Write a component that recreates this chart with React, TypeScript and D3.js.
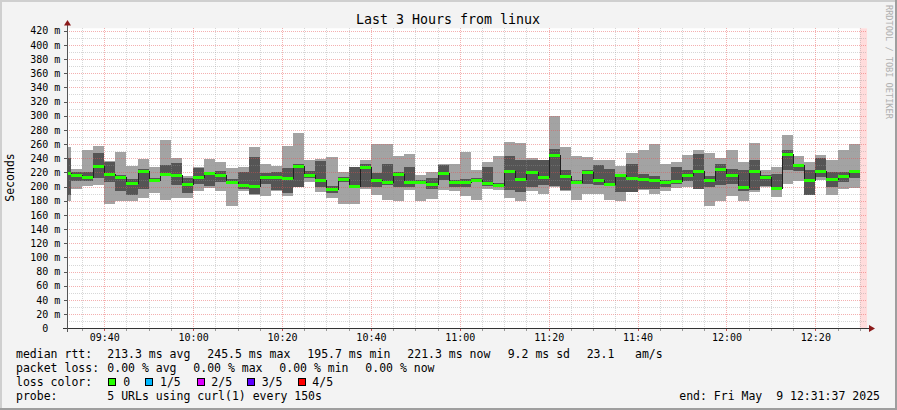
import React from 'react';
import * as d3 from 'd3';

// ---------- data ----------
const START = 9 * 3600 + 31 * 60 + 37; // 09:31:37
const END = START + 3 * 3600; // 12:31:37
const STEP = 150; // seconds per sample
const FIRST_BIN = 9 * 3600 + 30 * 60; // first sample bin starts 09:30:00

// smoke (5 pings sorted): outer max, inner high, median, inner low, outer min (ms)
const pingMax = [256, 225, 252, 257, 236, 249, 229, 239, 228, 266, 241, 215, 227, 239, 235, 226, 228, 256, 232, 229, 257, 276, 237, 239, 242, 220, 227, 237, 260, 260, 243, 246, 216, 220, 232, 232, 249, 223, 235, 243, 263, 262, 241, 238, 299, 256, 243, 242, 238, 238, 229, 248, 251, 260, 232, 234, 245, 252, 248, 240, 252, 235, 262, 223, 228, 273, 243, 234, 245, 237, 252, 260];
const pingHigh = [240, 221, 221, 248, 235, 217, 211, 225, 212, 230, 233, 212, 226, 221, 222, 211, 220, 242, 219, 220, 226, 232, 222, 236, 201, 214, 227, 232, 219, 232, 221, 227, 210, 212, 230, 209, 211, 212, 227, 205, 243, 238, 237, 237, 253, 223, 210, 223, 230, 225, 216, 232, 218, 215, 210, 227, 224, 246, 215, 232, 225, 223, 238, 216, 218, 252, 232, 223, 240, 220, 221, 224];
const medianRtt = [219, 216, 214, 229, 218, 214, 205, 222, 210, 218, 217, 204, 214, 219, 216, 206, 202, 201, 214, 214, 212, 229, 216, 209, 196, 211, 201, 227, 209, 206, 218, 206, 207, 203, 219, 207, 206, 209, 205, 202, 222, 211, 221, 214, 244, 215, 206, 221, 209, 204, 216, 212, 211, 209, 206, 208, 216, 222, 210, 225, 217, 199, 222, 214, 198, 246, 230, 209, 222, 211, 215, 222];
const pingLow = [188, 208, 208, 212, 206, 194, 188, 197, 206, 215, 202, 191, 203, 201, 206, 203, 196, 190, 203, 195, 191, 199, 212, 200, 191, 207, 198, 200, 199, 202, 200, 200, 203, 196, 209, 199, 199, 207, 201, 199, 195, 193, 199, 202, 201, 195, 204, 204, 202, 202, 193, 193, 196, 196, 199, 204, 208, 196, 200, 202, 204, 194, 195, 201, 195, 223, 222, 188, 214, 199, 206, 212];
const pingMin = [180, 197, 201, 202, 175, 180, 180, 184, 191, 181, 184, 184, 194, 198, 194, 173, 194, 188, 187, 194, 187, 199, 207, 193, 184, 176, 176, 197, 188, 181, 180, 195, 180, 182, 195, 194, 187, 181, 196, 195, 184, 180, 194, 190, 200, 194, 181, 190, 190, 181, 179, 193, 195, 190, 194, 198, 200, 196, 173, 179, 187, 180, 193, 199, 186, 204, 208, 188, 209, 188, 196, 198];

const yTickValues = [0, 20, 40, 60, 80, 100, 120, 140, 160, 180, 200, 220, 240, 260, 280, 300, 320, 340, 360, 380, 400, 420];
const xTickLabels = ['09:40', '10:00', '10:20', '10:40', '11:00', '11:20', '11:40', '12:00', '12:20'];

const titleText = 'Last 3 Hours from linux';
const yAxisLabel = 'Seconds';
const watermark = 'RRDTOOL / TOBI OETIKER';

const rttLegend = ['median rtt:', '213.3 ms avg', '245.5 ms max', '195.7 ms min', '221.3 ms now', '9.2 ms sd', '23.1', 'am/s'];
const lossLegend = ['packet loss:', '0.00 % avg', '0.00 % max', '0.00 % min', '0.00 % now'];
const lossColorLabels = ['0', '1/5', '2/5', '3/5', '4/5'];
const lossColors = ['#26ff00', '#00b8ff', '#dd00ff', '#5e00ff', '#ff0000'];
const probeLegend = ['probe:', '5 URLs using curl(1) every 150s'];
const endText = 'end: Fri May  9 12:31:37 2025';

// ---------- layout ----------
const W = 897;
const H = 410;
const PX0 = 67;
const PX1 = 867;
const PY0 = 28.3;
const PY1 = 328.3;
const FONT = '"DejaVu Sans Mono", monospace';

const rttX = [16, 107.3, 207.3, 307.3, 407.3, 507.7, 586.7, 635];
const lossX = [16, 107.3, 193.3, 279.3, 365.3];
const boxX = [108.3, 145.3, 196.7, 247.3, 297.7];
const boxLabelX = [123.3, 160, 211.3, 261.7, 312.3];

const toSec = (s: string) => {
  const [h, m] = s.split(':').map(Number);
  return h * 3600 + m * 60;
};

export default function App() {
  const x = d3.scaleLinear().domain([START, END]).range([PX0, PX1]);
  const y = d3.scaleLinear().domain([0, 420]).range([328.3, 30.7]);

  const n = medianRtt.length;
  const bins = d3.range(n).map((i) => {
    const t0 = Math.max(START, FIRST_BIN + i * STEP);
    const t1 = FIRST_BIN + (i + 1) * STEP;
    return {
      x0: Math.round(x(t0)),
      x1: Math.round(x(t1)),
      max: pingMax[i],
      high: pingHigh[i],
      med: medianRtt[i],
      low: pingLow[i],
      min: pingMin[i],
    };
  });
  const lastT = FIRST_BIN + n * STEP;

  const medPts: [number, number][] = bins.map((b) => [b.x0, Math.round(y(b.med)) + 0.5]);
  medPts.push([bins[n - 1].x1, Math.round(y(medianRtt[n - 1])) + 0.5]);
  const medLine = d3.line().curve(d3.curveStepAfter)(medPts) || '';

  const minorT = d3.range(Math.ceil(START / 300) * 300, END, 300);
  const minorV = d3.range(10, 430, 20);

  const gridMinor = 'rgba(150,150,150,0.38)';
  const gridMajor = 'rgba(230,80,80,0.45)';

  return (
    <svg
      width={W}
      height={H}
      style={{ position: 'absolute', left: 0, top: 0, display: 'block' }}
      fontFamily={FONT}
    >
      <rect x={0} y={0} width={W} height={H} fill="#f3f3f3" />
      {/* 3d border */}
      <rect x={0} y={0} width={W} height={2} fill="#cfcfcf" />
      <rect x={0} y={0} width={2} height={H} fill="#cfcfcf" />
      <rect x={0} y={H - 2} width={W} height={2} fill="#9e9e9e" />
      <rect x={W - 2} y={0} width={2} height={H} fill="#9e9e9e" />

      {/* plot area */}
      <rect x={PX0} y={PY0} width={PX1 - PX0} height={PY1 - PY0} fill="#ffffff" />

      {/* unknown (pending) region */}
      <rect x={x(lastT)} y={PY0} width={PX1 - x(lastT)} height={PY1 - PY0} fill="#ffdcdc" />

      {/* smoke */}
      {bins.map((b, i) => (
        <g key={'s' + i} shapeRendering="crispEdges">
          <rect
            x={b.x0}
            y={Math.round(y(b.max))}
            width={b.x1 - b.x0}
            height={Math.round(y(b.min)) - Math.round(y(b.max))}
            fill="#a3a3a3"
          />
          <rect
            x={b.x0}
            y={Math.round(y(b.high))}
            width={b.x1 - b.x0}
            height={Math.max(1, Math.round(y(b.low)) - Math.round(y(b.high)))}
            fill="#555555"
          />
        </g>
      ))}

      {/* grid */}
      <g shapeRendering="crispEdges">
        {minorV.map((v) => (
          <line key={'hv' + v} x1={PX0} x2={PX1} y1={Math.round(y(v)) + 0.5} y2={Math.round(y(v)) + 0.5} stroke={gridMinor} strokeDasharray="1,1" />
        ))}
        {yTickValues.filter((v) => v > 0).map((v) => (
          <line key={'hm' + v} x1={PX0} x2={PX1} y1={Math.round(y(v)) + 0.5} y2={Math.round(y(v)) + 0.5} stroke={gridMajor} strokeDasharray="1,1" />
        ))}
        {minorT.map((t) => (
          <line
            key={'vt' + t}
            x1={Math.round(x(t)) + 0.5}
            x2={Math.round(x(t)) + 0.5}
            y1={PY0}
            y2={PY1}
            stroke={t % 1200 === 0 ? gridMajor : gridMinor}
            strokeDasharray="1,1"
          />
        ))}
      </g>

      {/* median line + loss colored band */}
      <path d={medLine} fill="none" stroke="#202020" strokeWidth={1} shapeRendering="crispEdges" />
      {bins.map((b, i) => (
        <rect
          key={'m' + i}
          x={b.x0}
          y={Math.round(y(b.med)) - 1}
          width={b.x1 - b.x0}
          height={3}
          fill={lossColors[0]}
          shapeRendering="crispEdges"
        />
      ))}

      {/* axes */}
      <g shapeRendering="crispEdges">
        {yTickValues.map((v) => (
          <line key={'yt' + v} x1={PX0 - 3} x2={PX0} y1={Math.round(y(v)) + 0.5} y2={Math.round(y(v)) + 0.5} stroke="#555" />
        ))}
        {minorT.map((t) => (
          <line key={'xt' + t} x1={Math.round(x(t)) + 0.5} x2={Math.round(x(t)) + 0.5} y1={PY1} y2={PY1 + 3} stroke={t % 1200 === 0 ? '#c05050' : '#999'} />
        ))}
        <line x1={PX0 - 4} x2={PX1 + 5} y1={328.5} y2={328.5} stroke="#333" />
        <line x1={PX0 + 0.5} x2={PX0 + 0.5} y1={332} y2={24} stroke="#555" />
      </g>
      <path d={`M${PX0 - 3},${25.5} L${PX0 + 0.5},${20} L${PX0 + 4},${25.5} Z`} fill="#8b1a1a" />
      <path d={`M${PX1 + 2},${325} L${PX1 + 8},${328.5} L${PX1 + 2},${332} Z`} fill="#8b1a1a" />

      {/* y labels */}
      {yTickValues.map((v) => (
        <text
          key={'yl' + v}
          x={v === 0 ? 48.2 : 60.4}
          y={y(v) + 3.7}
          textAnchor="end"
          fontSize={10}
          fill="#000"
        >
          {v === 0 ? '0' : `${v} m`}
        </text>
      ))}

      {/* x labels */}
      {xTickLabels.map((l) => (
        <text key={'xl' + l} x={x(toSec(l)) + 0.5} y={341} textAnchor="middle" fontSize={10} fill="#000">
          {l}
        </text>
      ))}

      {/* title */}
      <text x={448} y={23.5} textAnchor="middle" fontSize={13.3} fill="#000">
        {titleText}
      </text>

      {/* y axis unit label */}
      <text transform={`translate(13.5,177.5) rotate(-90)`} textAnchor="middle" fontSize={11.5} fill="#000">
        {yAxisLabel}
      </text>

      {/* watermark */}
      <text transform={`translate(885.5,5) rotate(90)`} fontSize={8.6} fill="#b0b0b0">
        {watermark}
      </text>

      {/* legend */}
      <g fontSize={11.5} fill="#000">
        {rttLegend.map((s, i) => (
          <text key={'r' + i} x={rttX[i]} y={358.3} xmlSpace="preserve">{s}</text>
        ))}
        {lossLegend.map((s, i) => (
          <text key={'l' + i} x={lossX[i]} y={372.3} xmlSpace="preserve">{s}</text>
        ))}
        <text x={16} y={386.3}>loss color:</text>
        {lossColorLabels.map((s, i) => (
          <g key={'c' + i}>
            <rect x={boxX[i] + 0.5} y={378.5} width={7} height={7} fill={lossColors[i]} stroke="#000" strokeWidth={1} shapeRendering="crispEdges" />
            <text x={boxLabelX[i]} y={386.3}>{s}</text>
          </g>
        ))}
        {probeLegend.map((s, i) => (
          <text key={'p' + i} x={i === 0 ? 16 : 107.3} y={400.3}>{s}</text>
        ))}
        <text x={880} y={400.3} textAnchor="end" xmlSpace="preserve">{endText}</text>
      </g>
    </svg>
  );
}
